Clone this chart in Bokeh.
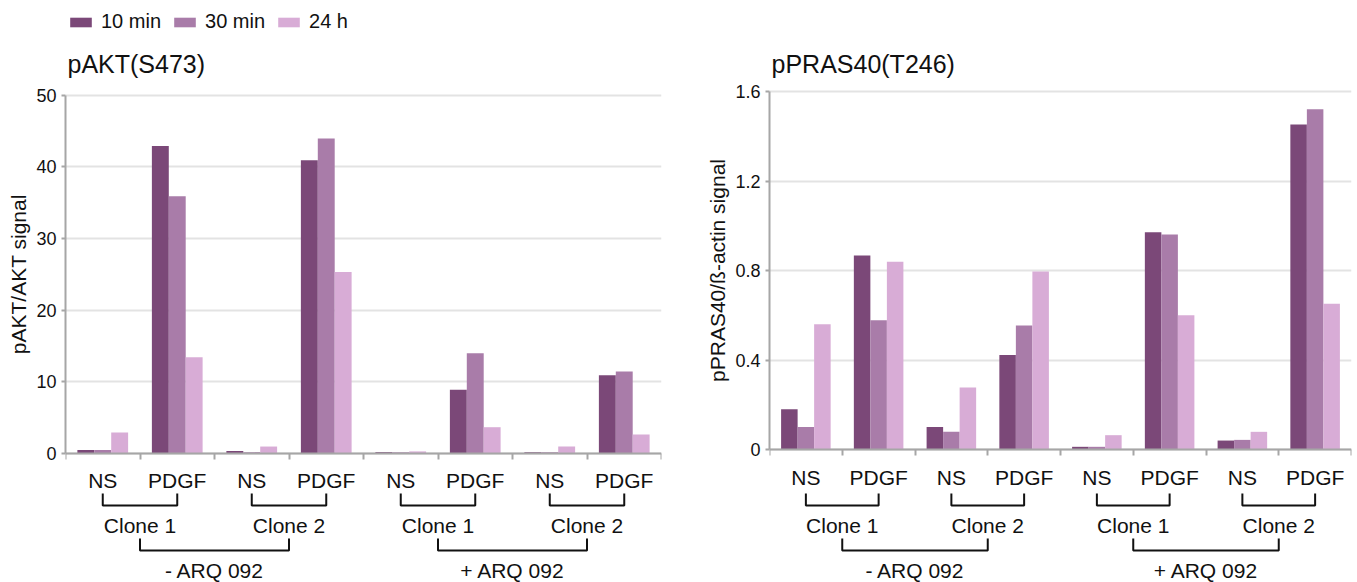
import numpy as np
from bokeh.plotting import figure
from bokeh.layouts import row
from bokeh.models import (Range1d, LinearAxis, FixedTicker, Grid, Label, Legend,
                          LegendItem)
from bokeh.embed import file_html
from bokeh.resources import INLINE
from bokeh.core.properties import value

# ---- data -------------------------------------------------------------
categories = ["NS", "PDGF", "NS", "PDGF", "NS", "PDGF", "NS", "PDGF"]
clones = ["Clone 1", "Clone 2", "Clone 1", "Clone 2"]
treatments = ["- ARQ 092", "+ ARQ 092"]
series_names = ["10 min", "30 min", "24 h"]
series_colors = ["#7b4878", "#a97ca9", "#d8acd6"]

pakt_10min = [0.45, 42.9, 0.3, 40.9, 0.15, 8.85, 0.15, 10.9]
pakt_30min = [0.45, 35.9, 0.15, 43.95, 0.12, 13.97, 0.12, 11.4]
pakt_24h = [2.9, 13.4, 0.93, 25.3, 0.25, 3.63, 0.93, 2.6]
pakt_ticks = [0, 10, 20, 30, 40, 50]
pakt_tick_labels = ["0", "10", "20", "30", "40", "50"]

pras_10min = [0.18, 0.867, 0.101, 0.422, 0.012, 0.971, 0.040, 1.453]
pras_30min = [0.101, 0.578, 0.079, 0.554, 0.012, 0.961, 0.043, 1.521]
pras_24h = [0.56, 0.839, 0.277, 0.796, 0.064, 0.600, 0.079, 0.651]
pras_ticks = [0, 0.4, 0.8, 1.2, 1.6]
pras_tick_labels = ["0", "0.4", "0.8", "1.2", "1.6"]

FONT = "Liberation Sans"
INK = "#111111"
AXIS_GREY = "#a6a6a6"
GRID_GREY = "#e3e3e3"
H = 582


def panel(title, ylabel, v10, v30, v24, ticks, tick_labels,
          label_w, label_cx, left, frame_w, right, zero_px, top_px, with_legend):
    n = len(categories)
    ymax = ticks[-1]
    k = (zero_px - top_px) / ymax          # pixels per data unit

    def y_at(py):                          # page row -> data value
        return (zero_px - py) / k

    y_range = Range1d(y_at(H), y_at(0))

    # narrow strip holding the rotated value-axis title
    strip = figure(width=label_w, height=H, x_range=Range1d(0, label_w),
                   y_range=y_range, x_axis_type=None, y_axis_type=None,
                   output_backend="svg", toolbar_location=None,
                   min_border_left=0, min_border_right=0,
                   min_border_top=0, min_border_bottom=0)
    strip.outline_line_color = None
    strip.grid.visible = False
    strip.text(x=[label_cx], y=[ymax / 2], text=[ylabel], angle=np.pi / 2,
               text_font=value(FONT), text_font_size=value("21px"),
               text_color=INK, text_align="center", text_baseline="middle")

    p = figure(width=left + frame_w + right, height=H,
               x_range=Range1d(0, n), y_range=y_range,
               x_axis_type=None, y_axis_type=None,
               output_backend="svg", toolbar_location=None,
               min_border_left=left, min_border_right=right,
               min_border_top=0, min_border_bottom=0)
    p.outline_line_color = None
    p.background_fill_color = "white"
    p.border_fill_color = "white"

    p.add_layout(Grid(dimension=1, ticker=FixedTicker(ticks=ticks),
                      grid_line_color=GRID_GREY, grid_line_width=2))

    # grouped bars
    centers = np.arange(n) + 0.5
    bw = 0.227
    renderers = []
    for off, vals, col in zip((-bw, 0.0, bw), (v10, v30, v24), series_colors):
        r = p.vbar(x=centers + off, top=vals, bottom=0, width=bw,
                   fill_color=col, line_color=None)
        renderers.append(r)

    # value axis
    yaxis = LinearAxis(ticker=FixedTicker(ticks=ticks), bounds=(0, ymax),
                       major_label_overrides=dict(zip(ticks, tick_labels)),
                       axis_line_color=AXIS_GREY, axis_line_width=2,
                       major_tick_line_color=AXIS_GREY, major_tick_line_width=2,
                       major_tick_out=4, major_tick_in=0,
                       minor_tick_out=0, minor_tick_in=0,
                       major_label_standoff=5,
                       major_label_text_font=FONT,
                       major_label_text_font_size="18px",
                       major_label_text_color=INK)
    p.add_layout(yaxis, "left")

    # category axis along y = 0, separators as minor ticks
    xaxis = LinearAxis(fixed_location=0,
                       ticker=FixedTicker(ticks=list(centers),
                                          minor_ticks=list(range(n + 1))),
                       bounds=(0, n),
                       major_label_overrides={float(c): lab for c, lab in zip(centers, categories)},
                       axis_line_color=AXIS_GREY, axis_line_width=2,
                       major_tick_out=0, major_tick_in=0,
                       minor_tick_out=6, minor_tick_in=0,
                       minor_tick_line_color=AXIS_GREY, minor_tick_line_width=2,
                       major_label_standoff=10,
                       major_label_text_font=FONT,
                       major_label_text_font_size="21px",
                       major_label_text_color=INK)
    p.add_layout(xaxis, "below")

    # clone brackets and labels
    cb_top, cb_bot, c_txt = y_at(493), y_at(505), y_at(525)
    xs, ys = [], []
    for i in range(0, n, 2):
        a, b = centers[i], centers[i + 1]
        xs.append([a, a, b, b])
        ys.append([cb_top, cb_bot, cb_bot, cb_top])
    clone_x = [centers[i] + 0.5 for i in range(0, n, 2)]
    p.text(x=clone_x, y=[c_txt] * len(clones), text=clones,
           text_font=value(FONT), text_font_size=value("21px"),
           text_color=INK, text_align="center", text_baseline="middle")

    # treatment brackets and labels
    tb_top, tb_bot, t_txt = y_at(538), y_at(550), y_at(570)
    for j in range(0, len(clone_x), 2):
        a, b = clone_x[j], clone_x[j + 1]
        xs.append([a, a, b, b])
        ys.append([tb_top, tb_bot, tb_bot, tb_top])
    treat_x = [(clone_x[j] + clone_x[j + 1]) / 2 for j in range(0, len(clone_x), 2)]
    p.text(x=treat_x, y=[t_txt] * len(treatments), text=treatments,
           text_font=value(FONT), text_font_size=value("21px"),
           text_color=INK, text_align="center", text_baseline="middle")
    p.multi_line(xs=xs, ys=ys, line_color=INK, line_width=2)

    # panel title
    p.add_layout(Label(x=2, y=H - 63, x_units="screen", y_units="screen",
                       text=title, text_font=FONT, text_font_size="25px",
                       text_color=INK, text_baseline="alphabetic"))

    if with_legend:
        legend = Legend(items=[LegendItem(label=s, renderers=[r])
                               for s, r in zip(series_names, renderers)],
                        orientation="horizontal", location=(2, H - 33),
                        glyph_width=27, glyph_height=12, label_standoff=7,
                        spacing=10, padding=0, margin=0, label_height=20,
                        label_text_font=FONT, label_text_font_size="20px",
                        label_text_color=INK, border_line_color=None,
                        background_fill_alpha=0)
        p.add_layout(legend, "center")
    return strip, p


s1, p1 = panel("pAKT(S473)", "pAKT/AKT signal", pakt_10min, pakt_30min, pakt_24h,
               pakt_ticks, pakt_tick_labels,
               label_w=32, label_cx=18, left=33, frame_w=596, right=19,
               zero_px=452.7, top_px=94.7, with_legend=True)
s2, p2 = panel("pPRAS40(T246)", "pPRAS40/ß-actin signal", pras_10min, pras_30min, pras_24h,
               pras_ticks, pras_tick_labels,
               label_w=50, label_cx=37, left=39, frame_w=582, right=6,
               zero_px=449, top_px=91, with_legend=False)

layout = row(s1, p1, s2, p2, spacing=0)
open("out.html", "w").write(file_html(layout, INLINE))
